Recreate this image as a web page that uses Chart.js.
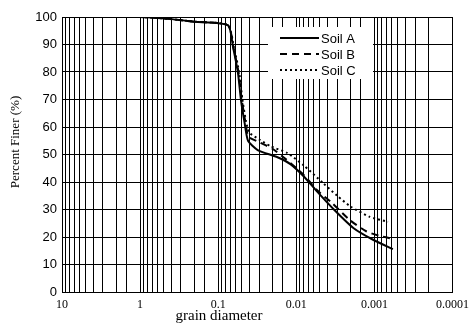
<!DOCTYPE html>
<html>
<head>
<meta charset="utf-8">
<script src="https://cdn.jsdelivr.net/npm/chart.js@4"></script>
<style>
  html, body { margin: 0; padding: 0; background: #fff; }
  #wrap { width: 475px; height: 325px; }
</style>
</head>
<body>
<div id="wrap"><canvas id="chart" width="475" height="325"></canvas></div>
<script>
// grain diameter (mm) and percent finer
const soilADiam = [1, 0.5, 0.2, 0.075, 0.0645, 0.0558, 0.0512, 0.0459, 0.0415, 0.0312, 0.0174, 0.0119, 0.008, 0.0054, 0.0033, 0.00186, 0.00104, 0.00058];
const soilAPct  = [100, 99.5, 98.3, 97, 89, 79.6, 70, 61.5, 55, 51.6, 49, 46.5, 42, 36.5, 30, 23.3, 19, 15.6];

const soilBDiam = [1, 0.5, 0.2, 0.075, 0.064, 0.055, 0.05, 0.045, 0.041, 0.03, 0.02, 0.012, 0.008, 0.0054, 0.0035, 0.00207, 0.00126, 0.00087, 0.00058];
const soilBPct  = [100, 99.5, 98.3, 97, 89, 80, 70, 62, 56.5, 54.5, 52, 47, 42.5, 37, 32.4, 26.2, 22, 20.5, 19.3];

const soilCDiam = [1, 0.5, 0.2, 0.075, 0.063, 0.054, 0.049, 0.044, 0.04, 0.03, 0.0213, 0.013, 0.008, 0.0045, 0.003, 0.002, 0.00116, 0.00067];
const soilCPct  = [100, 99.5, 98.3, 97, 89, 80, 70, 62, 58, 55.5, 53, 50.5, 46, 39.5, 35, 31, 27.4, 25.5];

const xTickValues = [10, 1, 0.1, 0.01, 0.001, 0.0001];
const xTickLabels = ['10', '1', '0.1', '0.01', '0.001', '0.0001'];

const seriesLabels = ['Soil A', 'Soil B', 'Soil C'];

function toPoints(xs, ys) {
  return xs.map((x, i) => ({ x: x, y: ys[i] }));
}

// legend drawn inside the plot, with a white box behind it
const innerLegend = {
  id: 'innerLegend',
  afterDatasetsDraw(chart) {
    const ctx = chart.ctx;
    ctx.save();
    ctx.fillStyle = '#fff';
    ctx.fillRect(268, 27, 105, 52);
    ctx.font = '13px "Liberation Sans", Arial, sans-serif';
    ctx.textBaseline = 'middle';
    const rows = [38, 54, 70];
    chart.data.datasets.forEach((ds, i) => {
      const y = rows[i];
      ctx.strokeStyle = ds.borderColor;
      ctx.lineWidth = ds.borderWidth;
      ctx.setLineDash(ds.borderDash || []);
      ctx.beginPath();
      ctx.moveTo(280, y);
      ctx.lineTo(319, y);
      ctx.stroke();
      ctx.fillStyle = '#000';
      ctx.fillText(ds.label, 321, y + 1);
    });
    ctx.restore();
  }
};

// axis titles
const axisTitles = {
  id: 'axisTitles',
  afterDraw(chart) {
    const ctx = chart.ctx;
    ctx.save();
    ctx.fillStyle = '#000';
    ctx.textAlign = 'center';
    ctx.textBaseline = 'alphabetic';
    ctx.font = '15px "Liberation Serif", "Times New Roman", serif';
    ctx.fillText('grain diameter', 219, 320);
    ctx.translate(19, 142);
    ctx.rotate(-Math.PI / 2);
    ctx.font = '13px "Liberation Serif", "Times New Roman", serif';
    ctx.fillText('Percent Finer (%)', 0, 0);
    ctx.restore();
  }
};

new Chart(document.getElementById('chart').getContext('2d'), {
  type: 'line',
  data: {
    datasets: [
      {
        label: seriesLabels[0],
        data: toPoints(soilADiam, soilAPct),
        borderColor: '#000',
        borderWidth: 2,
        pointRadius: 0,
        tension: 0.2
      },
      {
        label: seriesLabels[1],
        data: toPoints(soilBDiam, soilBPct),
        borderColor: '#000',
        borderWidth: 2,
        borderDash: [7, 5],
        pointRadius: 0,
        tension: 0.2
      },
      {
        label: seriesLabels[2],
        data: toPoints(soilCDiam, soilCPct),
        borderColor: '#000',
        borderWidth: 2,
        borderDash: [2, 3],
        pointRadius: 0,
        tension: 0.2
      }
    ]
  },
  options: {
    responsive: false,
    animation: false,
    layout: { padding: { top: 17, right: 18, left: 0, bottom: 0 } },
    plugins: {
      legend: { display: false },
      tooltip: { enabled: false }
    },
    scales: {
      x: {
        type: 'logarithmic',
        reverse: true,
        min: 0.0001,
        max: 10,
        grid: { color: '#000', lineWidth: 1, drawTicks: false },
        border: { color: '#000', width: 1 },
        ticks: {
          autoSkip: false,
          maxRotation: 0,
          padding: 6,
          color: '#000',
          font: { family: '"Liberation Serif", "Times New Roman", serif', size: 12 },
          callback: function (value) {
            const idx = xTickValues.findIndex(v => Math.abs(Math.log10(v) - Math.log10(value)) < 1e-6);
            return idx >= 0 ? xTickLabels[idx] : '';
          }
        },
        afterFit: function (scale) { scale.height = 33; }
      },
      y: {
        min: 0,
        max: 100,
        grid: { color: '#000', lineWidth: 1, drawTicks: false },
        border: { color: '#000', width: 1 },
        ticks: {
          stepSize: 10,
          padding: 5,
          color: '#000',
          font: { family: '"Liberation Sans", Arial, sans-serif', size: 13 }
        },
        afterFit: function (scale) { scale.width = 62; }
      }
    }
  },
  plugins: [innerLegend, axisTitles]
});
</script>
</body>
</html>
